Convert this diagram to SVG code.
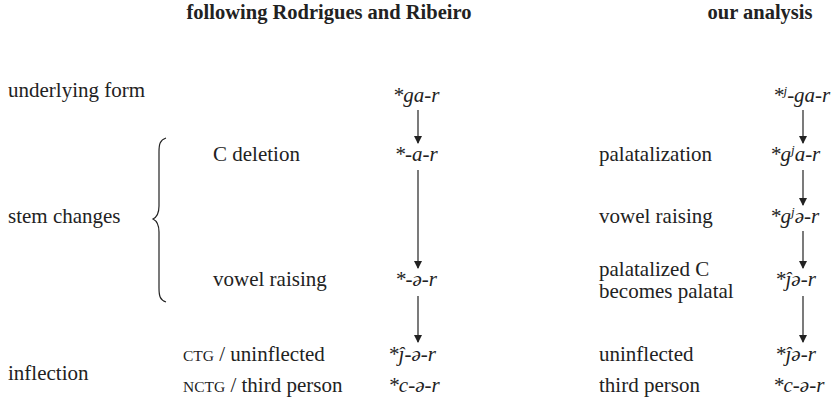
<svg xmlns="http://www.w3.org/2000/svg" width="831" height="402" viewBox="0 0 831 402">
<defs>
<style>
text{font-family:"Liberation Serif","DejaVu Serif",serif;font-size:21px;fill:#222}
.h{font-weight:bold;font-size:20.5px}
.i{font-style:italic}
.f{text-anchor:middle}
.sc{font-size:15.5px}
.sup{font-size:13px}
.ln{stroke:#222;stroke-width:1.2;fill:none}
</style>
<marker id="ah" viewBox="0 0 8 10" refX="7" refY="5" markerWidth="8" markerHeight="10" markerUnits="userSpaceOnUse" orient="auto"><path d="M0,1 L8,5 L0,9 Z" fill="#222"/></marker>
</defs>
<rect width="831" height="402" fill="#fff"/>
<g id="headers">
<text class="h" x="329" y="19" text-anchor="middle">following Rodrigues and Ribeiro</text>
<text class="h" x="760" y="19" text-anchor="middle">our analysis</text>
</g>
<g id="row-labels">
<text x="8" y="97">underlying form</text>
<text x="8" y="223">stem changes</text>
<text x="8" y="380">inflection</text>
</g>
<g id="brace"><path class="ln" stroke-width="1.8" d="M166,138 C160,140 159,144 159,152 L159,206 C159,214 157,217 153,219 C157,221 159,224 159,232 L159,288 C159,296 160,300 166,302"/></g>
<g id="rr-steps">
<text x="213" y="161">C deletion</text>
<text x="213" y="286">vowel raising</text>
<text x="183" y="361"><tspan class="sc">CTG</tspan> / uninflected</text>
<text x="183" y="392"><tspan class="sc">NCTG</tspan> / third person</text>
</g>
<g id="rr-forms">
<text class="i f" x="416" y="102">*ga-r</text>
<text class="i f" x="416" y="161">*-a-r</text>
<text class="i f" x="416" y="286">*-ə-r</text>
<text class="i f" x="412" y="361">*ĵ-ə-r</text>
<text class="i f" x="414" y="392">*c-ə-r</text>
</g>
<g id="our-steps">
<text x="599" y="161">palatalization</text>
<text x="599" y="223">vowel raising</text>
<text x="599" y="276">palatalized C</text>
<text x="599" y="298">becomes palatal</text>
<text x="599" y="361">uninflected</text>
<text x="599" y="392">third person</text>
</g>
<g id="our-forms">
<text class="i" x="773" y="102">*<tspan class="sup" dy="-7">j</tspan><tspan dy="7">-ga-r</tspan></text>
<text class="i" x="770" y="161">*g<tspan class="sup" dy="-7">j</tspan><tspan dy="7">a-r</tspan></text>
<text class="i" x="770" y="223">*g<tspan class="sup" dy="-7">j</tspan><tspan dy="7">ə-r</tspan></text>
<text class="i" x="775" y="286">*ĵə-r</text>
<text class="i" x="775" y="361">*ĵə-r</text>
<text class="i" x="773" y="392">*c-ə-r</text>
</g>
<g id="connectors">
<line class="ln" x1="418" y1="110" x2="418" y2="143" marker-end="url(#ah)"/>
<line class="ln" x1="418" y1="170" x2="418" y2="268" marker-end="url(#ah)"/>
<line class="ln" x1="418" y1="296" x2="418" y2="342" marker-end="url(#ah)"/>
<line class="ln" x1="803" y1="110" x2="803" y2="143" marker-end="url(#ah)"/>
<line class="ln" x1="803" y1="170" x2="803" y2="205" marker-end="url(#ah)"/>
<line class="ln" x1="803" y1="231" x2="803" y2="268" marker-end="url(#ah)"/>
<line class="ln" x1="803" y1="296" x2="803" y2="342" marker-end="url(#ah)"/>
</g>
</svg>
